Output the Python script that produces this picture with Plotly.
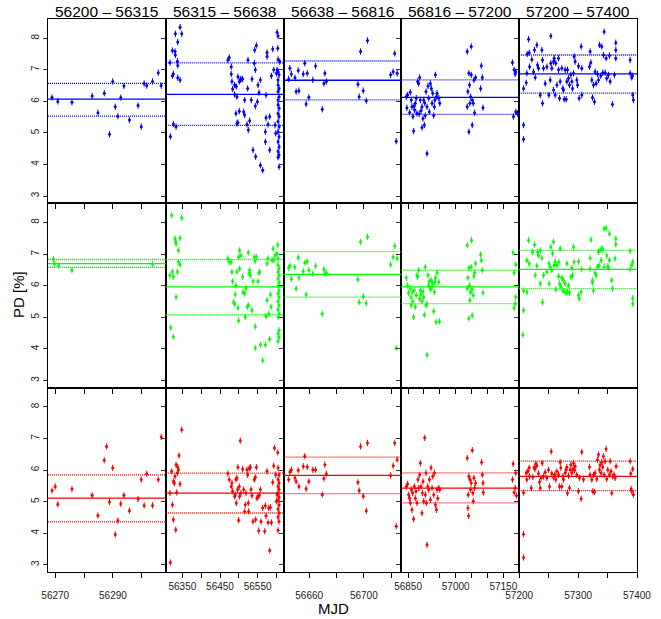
import plotly.graph_objects as go

FONT = "Liberation Sans, Arial, Helvetica, sans-serif"

COL_TITLES = ["56200 \u2013 56315", "56315 \u2013 56638", "56638 \u2013 56816",
              "56816 \u2013 57200", "57200 \u2013 57400"]
X_RANGES = [[56267.5, 56308.3], [56306, 56619], [56641.3, 56727.5],
            [56829, 57200], [57200, 57400]]
X_TICKS = [[56270, 56280, 56290, 56300],
           [56350, 56400, 56450, 56500, 56550, 56600],
           [56660, 56680, 56700, 56720],
           [56850, 56900, 56950, 57000, 57050, 57100, 57150],
           [57200, 57250, 57300, 57350, 57400]]
X_TICKTEXT = [["56270", "", "56290", ""],
              ["56350", "", "56450", "", "56550", ""],
              ["56660", "", "56700", ""],
              ["56850", "", "", "57000", "", "", "57150"],
              ["57200", "", "57300", "", "57400"]]
Y_TICKS = [3, 4, 5, 6, 7, 8]
Y_RANGE = [2.77, 8.61]

# mean and mean +/- sd levels per column
B_MEAN = [6.07, 6.22, 6.67, 6.13, 6.87]
B_HI = [6.57, 7.22, 7.28, 6.68, 7.47]
B_LO = [5.53, 5.24, 6.05, 5.59, 6.26]
G_MEAN = [6.70, 5.96, 6.36, 5.96, 6.52]
G_HI = [6.83, 6.83, 7.08, 6.49, 7.12]
G_LO = [6.58, 5.08, 5.64, 5.43, 5.91]
R_MEAN = [5.11, 5.27, 5.83, 5.43, 5.80]
R_HI = [5.85, 5.90, 6.41, 5.91, 6.28]
R_LO = [4.36, 4.64, 5.25, 4.96, 5.35]

ERR = 0.1  # typical PD uncertainty

# ---------- column 1 ----------
B1 = [(56268.9, 6.12), (56270.9, 6.00), (56275.8, 5.97), (56282.8, 6.17), (56284.8, 5.64),
      (56287.0, 6.26), (56288.8, 4.96), (56289.9, 6.63), (56290.8, 5.83), (56291.7, 5.53),
      (56292.7, 6.12), (56293.8, 6.49), (56295.7, 5.41), (56298.7, 5.87), (56299.8, 5.20),
      (56300.8, 6.57), (56301.7, 6.50), (56303.7, 6.63), (56305.7, 6.91), (56306.7, 6.50)]
G1 = [(56269.4, 6.84), (56269.8, 6.70), (56271.2, 6.63), (56275.8, 6.49), (56303.7, 6.68)]
R1 = [(56268.9, 5.35), (56270.0, 5.48), (56270.9, 4.92), (56275.8, 5.40), (56282.8, 5.20),
      (56284.8, 4.56), (56287.0, 6.31), (56287.8, 6.75), (56288.8, 4.99), (56289.9, 6.07),
      (56290.8, 3.96), (56291.7, 4.40), (56292.7, 4.93), (56293.8, 5.20), (56295.7, 4.71),
      (56298.7, 5.08), (56299.8, 5.70), (56300.8, 4.88), (56301.7, 5.88), (56303.7, 4.88),
      (56305.7, 5.70), (56306.7, 7.05)]

# ---------- column 2 ----------
B2 = [(56318.1, 4.89), (56317.2, 7.23), (56323.5, 7.61), (56323.5, 6.81), (56326.1, 6.87),
      (56326.1, 5.28), (56331.5, 8.14), (56331.5, 7.47), (56330.6, 7.58), (56333.3, 5.20),
      (56337.7, 7.88), (56337.7, 7.14), (56336.8, 7.27), (56337.7, 6.75), (56343.9, 8.35),
      (56343.9, 6.68), (56348.4, 8.14),
      (56471.0, 7.31), (56474.6, 7.39), (56479.9, 7.10), (56479.9, 6.87), (56481.7, 6.63),
      (56483.5, 6.39), (56488.8, 6.52), (56488.8, 6.22), (56492.4, 5.62), (56493.3, 6.47),
      (56495.0, 6.15), (56495.0, 5.30), (56497.7, 5.33), (56497.7, 6.78), (56501.3, 6.63),
      (56501.3, 5.69), (56503.9, 6.68), (56505.7, 6.71), (56510.1, 6.71), (56512.8, 5.67),
      (56515.5, 6.04), (56515.5, 5.57), (56521.7, 5.27), (56523.5, 6.41), (56524.4, 7.31),
      (56525.2, 5.09), (56528.8, 5.39), (56533.2, 6.04), (56535.0, 6.71), (56537.7, 4.46),
      (56541.2, 7.21), (56542.1, 7.63), (56543.9, 7.00), (56543.9, 5.85), (56544.8, 4.25),
      (56546.6, 7.77), (56549.3, 5.99), (56551.0, 6.52), (56553.7, 6.28), (56557.3, 3.98),
      (56557.3, 6.68), (56563.5, 3.82), (56570.6, 5.04), (56570.6, 4.72), (56572.4, 5.48),
      (56572.4, 6.20), (56575.0, 7.55), (56575.0, 7.42), (56577.7, 5.27), (56582.1, 5.52),
      (56582.1, 4.46), (56586.6, 6.81), (56590.1, 7.66), (56592.8, 7.00), (56596.3, 5.25),
      (56601.7, 8.19), (56604.3, 8.07), (56603.5, 7.68), (56604.3, 7.33), (56599.9, 6.89),
      (56604.3, 6.94), (56607.0, 6.84), (56604.3, 6.68), (56604.3, 6.52), (56607.0, 6.41),
      (56604.3, 6.31), (56607.0, 6.15), (56604.3, 6.04), (56604.3, 5.89), (56607.0, 5.78),
      (56604.3, 5.62), (56607.0, 5.52), (56604.3, 5.36), (56607.0, 5.20), (56604.3, 5.04),
      (56607.0, 4.88), (56604.3, 4.72), (56607.0, 4.56), (56604.3, 4.41), (56607.0, 4.30),
      (56604.3, 4.23), (56607.0, 3.93), (56598.1, 4.99), (56601.7, 7.00), (56608.8, 7.26)]
G2 = [(56317.2, 6.33), (56319.0, 4.67), (56323.5, 6.44), (56321.7, 8.23), (56326.1, 4.38),
      (56326.1, 6.28), (56330.6, 7.49), (56332.4, 7.39), (56333.3, 7.33), (56333.3, 5.64),
      (56336.8, 6.44), (56339.5, 7.12), (56339.5, 6.75), (56343.9, 7.51), (56343.9, 6.67),
      (56348.4, 8.15),
      (56471.0, 6.86), (56474.6, 6.75), (56479.9, 6.75), (56481.7, 6.44), (56483.5, 6.14),
      (56486.2, 5.48), (56488.8, 5.43), (56490.6, 5.72), (56492.4, 6.01), (56495.0, 6.44),
      (56497.7, 5.30), (56499.5, 4.90), (56499.5, 6.91), (56502.1, 7.12), (56502.1, 6.54),
      (56505.7, 6.96), (56510.1, 6.28), (56511.0, 5.80), (56515.5, 5.75), (56517.2, 5.01),
      (56519.0, 5.91), (56522.6, 5.33), (56525.2, 7.05), (56525.2, 5.38), (56527.0, 6.40),
      (56528.8, 6.49), (56530.6, 6.33), (56535.0, 5.22), (56537.7, 6.14), (56541.2, 6.91),
      (56543.0, 6.78), (56543.9, 4.71), (56543.9, 4.03), (56546.6, 6.91), (56551.0, 6.14),
      (56553.7, 6.40), (56555.5, 6.44), (56557.3, 4.13), (56563.5, 3.63), (56570.6, 4.13),
      (56572.4, 5.03), (56575.0, 5.54), (56575.0, 6.70), (56577.7, 6.86), (56579.5, 5.11),
      (56582.1, 4.30), (56583.9, 5.72), (56585.7, 5.33), (56588.4, 6.81), (56591.0, 7.18),
      (56592.8, 6.81), (56596.3, 6.96),
      (56603.5, 7.30), (56601.7, 7.02), (56604.3, 6.86), (56604.3, 6.65), (56607.0, 6.54),
      (56604.3, 6.44), (56607.0, 6.33), (56604.3, 6.22), (56607.0, 6.10), (56604.3, 5.99),
      (56607.0, 5.85), (56604.3, 5.75), (56607.0, 5.64), (56604.3, 5.51), (56607.0, 5.38),
      (56604.3, 5.25), (56607.0, 5.11), (56604.3, 5.01), (56607.0, 4.59), (56604.3, 4.48),
      (56607.0, 4.37), (56604.3, 4.24)]
R2 = [(56318.1, 3.07), (56317.2, 5.27), (56321.7, 5.96), (56323.5, 4.90), (56326.1, 4.43),
      (56326.1, 5.64), (56328.8, 5.59), (56330.6, 5.80), (56332.4, 4.11), (56333.3, 6.17),
      (56335.0, 5.29), (56336.8, 5.91), (56337.7, 6.10), (56339.5, 6.01), (56341.2, 6.46),
      (56343.9, 5.56), (56348.4, 7.28),
      (56471.0, 5.89), (56474.6, 5.70), (56479.9, 5.48), (56481.7, 5.59), (56483.5, 5.33),
      (56488.8, 5.17), (56490.6, 5.22), (56492.4, 5.70), (56493.3, 4.96), (56495.0, 5.75),
      (56496.8, 5.38), (56497.7, 6.09), (56499.5, 4.41), (56501.3, 5.48), (56502.1, 5.17),
      (56503.9, 6.93), (56505.7, 5.27), (56510.1, 6.03), (56512.8, 5.38), (56515.5, 4.69),
      (56517.2, 4.90), (56519.0, 5.27), (56521.7, 6.01), (56523.5, 5.85), (56525.2, 4.96),
      (56526.1, 4.69), (56527.9, 6.06), (56530.6, 6.09), (56532.4, 5.38), (56535.0, 5.19),
      (56537.7, 4.37), (56541.2, 5.70), (56543.9, 5.77), (56544.8, 4.43), (56546.6, 6.09),
      (56548.4, 5.11), (56551.0, 5.17), (56552.8, 4.08), (56554.6, 5.20), (56557.3, 5.38),
      (56559.0, 4.37), (56563.5, 4.80), (56568.8, 4.06), (56570.6, 4.87), (56572.4, 4.55),
      (56575.0, 5.96), (56577.7, 4.34), (56579.5, 4.80), (56582.1, 3.45), (56583.9, 4.82),
      (56586.6, 4.34), (56590.1, 5.61), (56592.8, 6.14), (56594.6, 6.70), (56598.1, 5.85),
      (56603.5, 6.56), (56604.3, 6.07), (56607.0, 5.85), (56604.3, 5.70), (56607.0, 5.59),
      (56604.3, 5.48), (56607.0, 5.38), (56604.3, 5.27), (56607.0, 5.15), (56604.3, 5.04),
      (56607.0, 4.90), (56604.3, 4.77), (56607.0, 4.64), (56604.3, 4.51), (56607.0, 4.37),
      (56604.3, 4.09), (56601.7, 5.22), (56599.9, 5.01)]

# ---------- column 3 (shared epochs) ----------
T3 = [56645.0, 56645.9, 56647.0, 56649.6, 56650.5, 56652.0, 56652.5, 56655.7, 56656.8,
      56657.8, 56658.6, 56659.8, 56662.7, 56664.7, 56669.6, 56670.8, 56671.5, 56672.6,
      56695.7, 56696.6, 56697.6, 56699.6, 56701.8, 56702.7, 56719.6, 56721.5, 56722.6,
      56723.7, 56724.4]
B3_PD = [6.71, 7.05, 6.87, 6.75, 6.31, 6.98, 6.34, 6.87, 7.21, 5.92, 6.89, 6.13, 6.68, 7.12,
         5.75, 6.57, 6.89, 6.63, 6.54, 6.15, 7.58, 6.34, 6.02, 7.93, 6.84, 6.94, 7.52, 4.74, 6.89]
G3_PD = [6.56, 6.63, 6.22, 6.59, 5.91, 6.89, 6.25, 6.46, 6.73, 5.72, 6.77, 6.49, 6.38, 6.63,
         5.11, 6.52, 6.38, 6.40, 6.20, 5.48, 7.39, 5.66, 5.45, 7.55, 6.67, 6.91, 7.26, 4.03, 6.86]
R3_PD = [5.70, 5.94, 6.01, 5.75, 5.64, 5.99, 5.48, 6.12, 6.44, 5.41, 6.10, 5.64, 6.01, 6.01,
         5.22, 5.73, 6.17, 5.88, 5.61, 5.35, 6.75, 5.17, 4.71, 6.86, 5.83, 6.14, 6.86, 4.22, 6.33]

# ---------- column 4 ----------
B4 = [(56844.3, 6.15), (56848.5, 6.20), (56846.4, 5.80), (56857.0, 6.29), (56860.1, 6.04),
      (56862.2, 5.83), (56865.4, 5.52), (56867.5, 5.06), (56870.7, 5.73), (56872.8, 5.94),
      (56875.9, 6.10), (56878.0, 5.62), (56880.2, 6.63), (56883.3, 6.57), (56886.5, 6.76),
      (56888.6, 6.04), (56890.7, 5.70), (56893.9, 5.83), (56893.9, 5.17), (56897.0, 5.46),
      (56899.2, 6.04), (56901.3, 5.25), (56904.4, 5.55), (56906.5, 6.31), (56909.7, 4.35),
      (56909.7, 5.83), (56912.9, 6.49), (56915.0, 6.10), (56917.1, 5.67), (56920.3, 6.57),
      (56923.4, 6.41), (56925.5, 5.94), (56927.6, 6.26), (56930.8, 5.55), (56932.9, 5.83),
      (56934.0, 6.04), (56936.1, 6.84), (56939.2, 6.15), (56941.4, 6.26), (56946.6, 6.10),
      (56949.8, 5.94), (56855.0, 5.65), (56868.5, 5.85), (56885.0, 5.60), (56902.5, 5.95),
      (57036.3, 7.58), (57049.0, 7.74), (57038.4, 6.31), (57041.6, 6.89), (57043.7, 6.52),
      (57046.9, 6.15), (57049.0, 6.84), (57052.1, 6.04), (57052.1, 5.25), (57041.6, 5.04),
      (57055.3, 5.94), (57057.4, 6.68), (57059.5, 5.64), (57062.7, 6.76), (57078.5, 6.41),
      (57080.6, 7.13), (57083.8, 6.76), (57085.9, 5.80), (57036.3, 5.83), (57044.7, 5.94),
      (57178.7, 7.23), (57184.0, 7.00), (57187.2, 6.87), (57189.3, 6.94), (57181.9, 5.52),
      (57189.3, 5.67), (57194.6, 5.62)]
G4 = [(56844.3, 6.25), (56848.5, 6.01), (56851.7, 5.77), (56857.0, 5.91), (56859.1, 5.64),
      (56860.1, 5.38), (56863.3, 5.80), (56865.4, 5.51), (56867.5, 5.01), (56869.6, 5.85),
      (56872.8, 5.33), (56875.9, 5.70), (56878.0, 6.33), (56880.2, 6.28), (56883.3, 6.49),
      (56886.5, 5.59), (56888.6, 5.85), (56890.7, 5.72), (56893.9, 5.51), (56897.0, 5.82),
      (56899.2, 5.64), (56901.3, 5.08), (56904.4, 6.59), (56906.5, 5.38), (56909.7, 3.81),
      (56909.7, 5.43), (56912.9, 6.33), (56915.0, 6.01), (56917.1, 6.14), (56920.3, 5.89),
      (56923.4, 6.17), (56925.5, 5.96), (56927.6, 6.07), (56930.8, 5.19), (56932.9, 5.80),
      (56934.0, 6.12), (56936.1, 6.25), (56938.2, 4.85), (56941.4, 6.41), (56946.6, 6.12),
      (56948.7, 4.87),
      (57036.3, 7.28), (57050.0, 7.44), (57038.4, 6.25), (57041.6, 6.56), (57043.7, 6.01),
      (57046.9, 5.80), (57049.0, 6.59), (57052.1, 5.89), (57052.1, 5.06), (57041.6, 4.96),
      (57055.3, 5.70), (57057.4, 6.31), (57059.5, 6.41), (57062.7, 6.70), (57078.5, 6.99),
      (57080.6, 6.81), (57083.8, 6.49), (57085.9, 5.78), (57036.3, 5.91), (57044.7, 5.54),
      (57180.8, 7.05), (57189.3, 6.67), (57184.0, 6.41), (57187.2, 5.43), (57189.3, 5.64),
      (57184.0, 5.29)]
R4 = [(56844.3, 5.48), (56848.6, 5.56), (56851.7, 5.22), (56854.9, 5.11), (56857.0, 4.96),
      (56860.2, 5.38), (56862.3, 4.74), (56864.4, 5.27), (56867.5, 4.45), (56869.7, 5.48),
      (56872.8, 5.11), (56874.9, 5.33), (56878.1, 4.96), (56881.3, 5.70), (56883.4, 5.43),
      (56886.5, 5.85), (56888.7, 6.22), (56890.8, 5.48), (56893.9, 4.64), (56895.0, 5.27),
      (56897.1, 5.64), (56899.2, 5.01), (56902.4, 7.02), (56904.5, 5.22), (56906.6, 5.91),
      (56907.6, 4.96), (56909.8, 3.63), (56911.9, 5.48), (56915.0, 5.38), (56917.1, 5.70),
      (56920.3, 5.06), (56922.4, 6.07), (56925.6, 5.43), (56927.7, 5.80), (56930.9, 5.22),
      (56933.0, 5.91), (56936.1, 4.90), (56939.3, 4.74), (56941.4, 5.38), (56943.5, 5.11),
      (56946.7, 5.43), (56949.8, 5.38),
      (57036.4, 6.38), (57038.5, 4.80), (57040.6, 4.55), (57039.5, 5.22), (57041.6, 5.80),
      (57044.8, 5.70), (57046.9, 5.38), (57049.0, 5.59), (57052.2, 6.63), (57054.3, 5.27),
      (57055.3, 5.01), (57057.5, 5.75), (57059.6, 5.43), (57062.7, 5.59), (57081.7, 6.25),
      (57083.8, 5.85), (57085.9, 5.59), (57087.0, 5.29),
      (57178.8, 5.70), (57180.9, 6.20), (57184.0, 5.29), (57187.2, 5.43), (57189.3, 5.91),
      (57191.4, 5.19)]

# ---------- column 5 ----------
B5 = [(57207.4, 5.25), (57207.4, 4.80), (57207.4, 6.41), (57211.9, 6.59), (57213.0, 6.89),
      (57213.6, 7.50), (57215.9, 7.97), (57217.0, 7.54), (57217.6, 7.10), (57221.5, 7.33),
      (57224.3, 6.94), (57226.0, 7.63), (57227.2, 6.76), (57230.0, 7.79), (57231.1, 7.15),
      (57232.8, 7.05), (57235.7, 6.20), (57238.5, 7.63), (57239.6, 7.31), (57241.3, 7.05),
      (57239.6, 5.94), (57244.1, 6.57), (57247.0, 7.10), (57250.4, 6.20), (57252.6, 6.68),
      (57253.7, 8.07), (57253.7, 7.21), (57255.4, 7.05), (57258.3, 7.26), (57258.3, 6.36),
      (57259.4, 7.37), (57261.1, 6.20), (57262.2, 7.21), (57264.0, 6.52), (57266.8, 7.37),
      (57266.8, 7.00), (57268.5, 6.10), (57269.6, 6.63), (57272.4, 7.05), (57274.1, 6.41),
      (57275.2, 6.36), (57276.4, 6.07), (57278.1, 7.00), (57279.8, 6.07), (57280.9, 6.63),
      (57282.0, 7.00), (57283.7, 6.73), (57285.4, 6.52), (57287.7, 6.84), (57289.4, 6.63),
      (57290.5, 6.41), (57292.2, 6.89), (57293.3, 7.42), (57295.0, 7.26), (57297.8, 6.68),
      (57299.0, 6.52), (57300.7, 7.12), (57301.8, 6.10), (57305.2, 7.74), (57306.3, 7.05),
      (57306.3, 6.20), (57319.3, 7.10), (57320.4, 7.58), (57321.6, 7.23), (57323.3, 6.68),
      (57324.4, 6.12), (57326.1, 6.52), (57327.8, 5.99), (57328.9, 6.94), (57330.6, 6.57),
      (57332.9, 6.87), (57334.6, 6.68), (57336.3, 7.79), (57338.5, 6.81), (57340.2, 7.74),
      (57341.9, 6.91), (57343.1, 7.47), (57344.2, 8.21), (57345.9, 6.91), (57347.6, 7.37),
      (57348.7, 6.73), (57351.5, 6.84), (57353.2, 7.45), (57354.4, 6.63), (57358.3, 5.91),
      (57361.7, 6.84), (57364.0, 7.86), (57364.0, 7.63), (57364.0, 7.37), (57388.3, 7.31),
      (57388.3, 6.89), (57391.1, 6.76), (57392.2, 6.81), (57392.8, 6.20), (57393.9, 6.04)]
G5 = [(57206.2, 4.45), (57207.4, 5.85), (57207.4, 5.22), (57213.0, 5.80), (57213.0, 6.81),
      (57215.9, 7.44), (57217.0, 6.70), (57222.6, 7.07), (57226.0, 7.30), (57227.2, 6.33),
      (57230.0, 6.63), (57231.1, 7.07), (57232.8, 6.96), (57235.7, 7.12), (57235.7, 6.07),
      (57238.5, 6.88), (57239.6, 5.48), (57241.3, 6.33), (57247.0, 6.44), (57250.4, 6.70),
      (57250.9, 6.07), (57252.6, 6.59), (57253.7, 7.23), (57255.4, 6.49), (57256.6, 7.02),
      (57258.3, 7.39), (57259.4, 6.65), (57261.1, 6.75), (57262.2, 5.88), (57264.0, 6.65),
      (57266.8, 6.30), (57267.3, 6.75), (57268.5, 6.07), (57269.6, 7.18), (57270.7, 5.98),
      (57272.4, 6.25), (57274.1, 5.85), (57275.2, 6.17), (57276.4, 5.82), (57278.1, 6.07),
      (57279.8, 5.78), (57280.9, 6.70), (57282.0, 5.80), (57283.7, 6.01), (57285.4, 5.78),
      (57287.7, 6.28), (57289.4, 6.56), (57290.5, 6.33), (57292.2, 7.23), (57293.3, 6.75),
      (57300.7, 6.77), (57300.7, 5.70), (57301.8, 5.59), (57305.2, 5.80), (57306.3, 6.52),
      (57320.4, 6.88), (57320.4, 6.54), (57322.1, 7.46), (57324.4, 6.17), (57324.4, 6.10),
      (57326.1, 5.85), (57328.9, 6.40), (57330.6, 6.33), (57332.9, 6.59), (57334.6, 7.07),
      (57335.7, 6.65), (57337.4, 7.12), (57339.1, 6.81), (57340.2, 7.18), (57341.9, 7.15),
      (57344.2, 6.59), (57344.2, 7.81), (57347.6, 7.83), (57348.7, 6.96), (57350.4, 6.62),
      (57351.5, 6.57), (57353.2, 7.65), (57353.2, 6.81), (57357.2, 6.17), (57358.3, 5.91),
      (57362.8, 6.86), (57364.0, 7.49), (57364.0, 7.31), (57388.3, 7.10), (57388.3, 6.52),
      (57391.1, 6.65), (57392.8, 6.75), (57392.8, 5.61), (57392.8, 5.43)]
R5 = [(57207.4, 5.29), (57207.4, 3.97), (57207.4, 3.23), (57211.9, 5.91), (57213.0, 5.70),
      (57214.7, 5.96), (57217.0, 6.07), (57217.5, 5.80), (57220.4, 5.43), (57223.2, 5.78),
      (57225.5, 6.09), (57226.6, 6.03), (57228.3, 6.20), (57230.0, 6.14), (57232.8, 5.89),
      (57234.5, 5.62), (57235.6, 5.43), (57237.3, 5.75), (57239.0, 6.22), (57241.3, 5.80),
      (57244.1, 5.93), (57246.9, 5.75), (57249.8, 6.01), (57251.5, 5.48), (57254.3, 6.59),
      (57255.4, 5.89), (57258.3, 5.77), (57260.5, 5.85), (57262.2, 5.70), (57263.9, 5.96),
      (57266.7, 5.85), (57268.4, 5.48), (57269.6, 6.25), (57270.7, 6.07), (57272.4, 5.48),
      (57274.1, 5.80), (57275.2, 5.70), (57278.0, 5.91), (57279.7, 6.01), (57280.9, 6.09),
      (57282.0, 5.27), (57283.7, 5.82), (57285.4, 5.43), (57286.5, 6.01), (57287.6, 6.17),
      (57289.3, 5.91), (57291.0, 6.03), (57292.2, 6.22), (57293.9, 5.99), (57295.0, 6.12),
      (57297.8, 5.85), (57300.6, 5.33), (57302.3, 5.75), (57305.2, 5.09), (57306.3, 6.57),
      (57309.1, 5.70), (57319.3, 6.10), (57320.4, 5.85), (57323.3, 5.70), (57325.0, 5.33),
      (57326.1, 5.85), (57327.8, 5.30), (57328.9, 5.91), (57331.7, 5.72), (57332.9, 6.33),
      (57334.6, 6.49), (57336.3, 6.01), (57337.4, 6.17), (57339.1, 5.91), (57340.2, 6.25),
      (57341.9, 6.10), (57343.0, 6.44), (57344.2, 5.85), (57345.9, 6.28), (57347.6, 6.67),
      (57348.7, 5.72), (57350.4, 6.01), (57353.2, 5.85), (57354.4, 6.28), (57356.0, 5.96),
      (57357.2, 5.27), (57358.9, 5.80), (57361.1, 5.85), (57362.8, 5.75), (57364.5, 6.12),
      (57388.3, 6.28), (57389.4, 5.89), (57390.0, 5.40), (57391.1, 5.33), (57392.8, 6.03),
      (57393.9, 5.22)]


def split(pairs):
    return [p[0] for p in pairs], [p[1] for p in pairs]


BLUE_PANELS = [split(B1), split(B2), (T3, B3_PD), split(B4), split(B5)]
GREEN_PANELS = [split(G1), split(G2), (T3, G3_PD), split(G4), split(G5)]
RED_PANELS = [split(R1), split(R2), (T3, R3_PD), split(R4), split(R5)]

ROWS = [("#0000FF", BLUE_PANELS, B_MEAN, B_HI, B_LO),
        ("#00FF00", GREEN_PANELS, G_MEAN, G_HI, G_LO),
        ("#FF0000", RED_PANELS, R_MEAN, R_HI, R_LO)]

fig = go.Figure()
layout = dict(
    width=661, height=619,
    margin=dict(l=48, r=24, t=19, b=47),
    paper_bgcolor="white", plot_bgcolor="white",
    showlegend=False,
    font=dict(family=FONT, color="black", size=10),
)
shapes = []
for r, (color, panels, means, his, los) in enumerate(ROWS):
    for c in range(5):
        k = r * 5 + c + 1
        sfx = "" if k == 1 else str(k)
        xa, ya = "x" + sfx, "y" + sfx
        layout["xaxis" + sfx] = dict(
            domain=[c / 5, (c + 1) / 5], anchor=ya, range=X_RANGES[c],
            tickmode="array", tickvals=X_TICKS[c], ticktext=X_TICKTEXT[c],
            showticklabels=(r == 2), ticks="outside", ticklen=5, tickwidth=1,
            tickcolor="black", showline=True, mirror=True, linecolor="black",
            linewidth=1.2, showgrid=False, zeroline=False, automargin=False,
            tickfont=dict(size=10, family=FONT, color="#222"),
            ticklabelstandoff=(9 if c % 2 == 0 else 0),
        )
        layout["yaxis" + sfx] = dict(
            domain=[1 - (r + 1) / 3, 1 - r / 3], anchor=xa, range=Y_RANGE,
            tickmode="array", tickvals=Y_TICKS,
            showticklabels=(c == 0), tickangle=-90, ticks="outside", ticklen=4,
            tickwidth=1, tickcolor="#333", showline=True, mirror=True,
            linecolor="black", linewidth=1.2, showgrid=False, zeroline=False,
            automargin=False,
            tickfont=dict(size=10, family=FONT, color="#222"),
        )
        tx, pd_ = panels[c]
        fig.add_trace(go.Scatter(
            x=tx, y=pd_, mode="markers", xaxis=xa, yaxis=ya,
            marker=dict(color=color, size=3, symbol="circle"),
            error_y=dict(type="constant", value=ERR, color=color, thickness=1, width=0),
            hoverinfo="x+y",
        ))
        for val, dash in ((means[c], "solid"), (his[c], "1px,1px"), (los[c], "1px,1px")):
            shapes.append(dict(
                type="line", xref=xa + " domain", x0=0, x1=1, yref=ya, y0=val, y1=val,
                line=dict(color=color, width=1.3, dash=dash),
                layer="above",
            ))

annotations = []
for c, title in enumerate(COL_TITLES):
    annotations.append(dict(
        text=title, xref="paper", yref="paper", x=(c + 0.5) / 5, y=1,
        xanchor="center", yanchor="middle", yshift=8, showarrow=False,
        font=dict(size=15.5, family=FONT, color="black"),
    ))
annotations.append(dict(
    text="PD [%]", xref="paper", yref="paper", x=-0.0492, y=0.501,
    xanchor="center", yanchor="middle", textangle=-90, showarrow=False,
    font=dict(size=15, family=FONT, color="black"),
))
annotations.append(dict(
    text="MJD", xref="paper", yref="paper", x=0.485, y=-0.066,
    xanchor="center", yanchor="middle", showarrow=False,
    font=dict(size=15, family=FONT, color="black"),
))
layout["shapes"] = shapes
layout["annotations"] = annotations
fig.update_layout(**layout)
# remove the browser's default 8px body margin so the figure fills the window
fig.write_html("out.html",
               config={"displayModeBar": False},
               post_script="document.body.style.margin='0px';document.body.style.overflow='hidden';")
